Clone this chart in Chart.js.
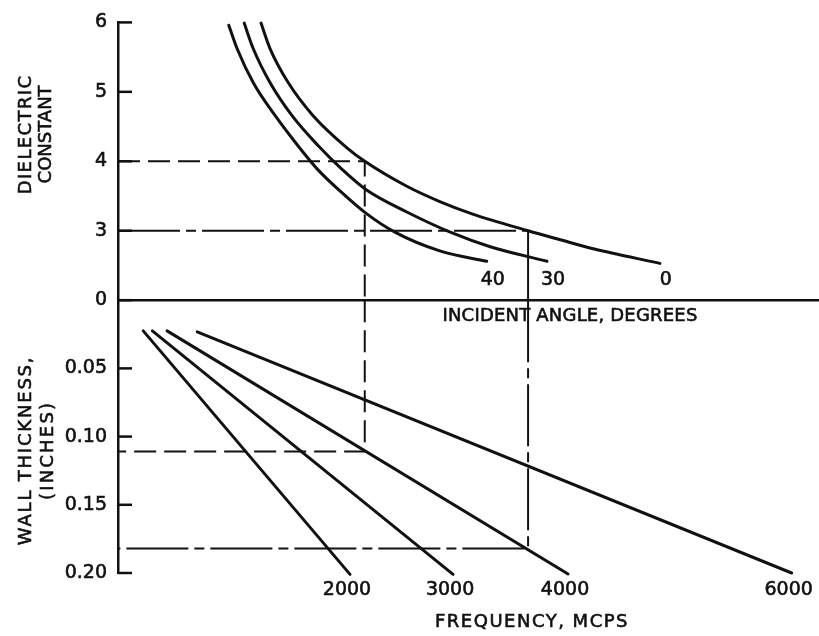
<!DOCTYPE html>
<html>
<head>
<meta charset="utf-8">
<title>Radome wall thickness nomogram</title>
<script src="https://cdn.jsdelivr.net/npm/chart.js@4.4.1/dist/chart.umd.min.js"></script>
<style>
  html, body { margin: 0; padding: 0; background: #ffffff; }
  #wrap { width: 819px; height: 636px; position: relative; }
</style>
</head>
<body>
<div id="wrap"><canvas id="chart" width="819" height="636"></canvas></div>
<script>
// ---- Upper panel: dielectric constant vs. position, one curve per incident angle ----
// (the dielectric axis is broken below 3; its lowest tick is printed as 0)
const angleNames = ['40', '30', '0'];
const angle40X   = [15.8, 17.0, 19.3, 22.4, 25.7, 28.5, 31.7, 35.4, 39.5, 45.9, 52.6];
const angle40Eps = [5.96, 5.62, 5.13, 4.66, 4.22, 3.88, 3.57, 3.25, 2.98, 2.71, 2.56];
const angle30X   = [18.0, 19.3, 21.7, 24.8, 28.5, 32.0, 35.4, 41.2, 47.4, 53.1, 61.2];
const angle30Eps = [5.99, 5.62, 5.13, 4.66, 4.23, 3.88, 3.59, 3.27, 2.98, 2.77, 2.56];
const angle0X    = [20.4, 21.7, 24.3, 27.8, 32.7, 35.2, 41.2, 45.9, 50.6, 58.5, 63.1, 67.8, 77.3];
const angle0Eps  = [5.99, 5.62, 5.13, 4.66, 4.19, 4.00, 3.64, 3.42, 3.24, 3.00, 2.87, 2.74, 2.53];

const dielectricTickValues = [2, 3, 4, 5, 6];
const dielectricTickLabels = ['0', '3', '4', '5', '6'];

// ---- Lower panel: wall thickness (inches), one straight line per frequency ----
const frequencyNames = ['2000', '3000', '4000', '6000'];
const freq2000X = [3.6, 33.1];   const freq2000T = [0.0225, 0.201];
const freq3000X = [4.9, 47.8];   const freq3000T = [0.0225, 0.201];
const freq4000X = [7.0, 64.2];   const freq4000T = [0.0225, 0.2007];
const freq6000X = [11.3, 96.1];  const freq6000T = [0.0232, 0.200];

const thicknessTickValues = [0.05, 0.10, 0.15, 0.20];

// ---- Worked examples: dielectric 4 -> 0.111 in, dielectric 3 -> 0.182 in ----
const exampleAUpperX = [0, 35.2, 35.2];   const exampleAUpperEps = [4, 4, 2];
const exampleALowerX = [35.2, 35.2, 0];   const exampleALowerT   = [0, 0.111, 0.111];
const exampleBUpperX = [0, 58.5, 58.5];   const exampleBUpperEps = [3, 3, 2];
const exampleBLowerX = [58.5, 58.5, 0];   const exampleBLowerT   = [0, 0.182, 0.182];

const INK = '#111111';
const FONT = '"DejaVu Sans", sans-serif';
const TEXT_STROKE = 0.6;

const zip = (xs, ys) => xs.map((x, i) => ({ x: x, y: ys[i] }));

const curveStyle = {
  borderColor: INK, borderWidth: 3, pointRadius: 0, fill: false,
  borderCapStyle: 'round', clip: false
};
const guideStyle = {
  borderColor: INK, borderWidth: 2, pointRadius: 0, fill: false, tension: 0
};
const DASH = [22, 8];
const DASH_DOT = [62, 6, 10, 6];

const datasets = [
  { ...curveStyle, label: angleNames[0], data: zip(angle40X, angle40Eps), yAxisID: 'y1', cubicInterpolationMode: 'monotone' },
  { ...curveStyle, label: angleNames[1], data: zip(angle30X, angle30Eps), yAxisID: 'y1', cubicInterpolationMode: 'monotone' },
  { ...curveStyle, label: angleNames[2], data: zip(angle0X, angle0Eps),   yAxisID: 'y1', cubicInterpolationMode: 'monotone' },
  { ...curveStyle, label: frequencyNames[0], data: zip(freq2000X, freq2000T), yAxisID: 'y2', tension: 0 },
  { ...curveStyle, label: frequencyNames[1], data: zip(freq3000X, freq3000T), yAxisID: 'y2', tension: 0 },
  { ...curveStyle, label: frequencyNames[2], data: zip(freq4000X, freq4000T), yAxisID: 'y2', tension: 0 },
  { ...curveStyle, label: frequencyNames[3], data: zip(freq6000X, freq6000T), yAxisID: 'y2', tension: 0 },
  { ...guideStyle, label: 'eps4-upper', data: zip(exampleAUpperX, exampleAUpperEps), yAxisID: 'y1', borderDash: DASH },
  { ...guideStyle, label: 'eps4-lower', data: zip(exampleALowerX, exampleALowerT),   yAxisID: 'y2', borderDash: DASH },
  { ...guideStyle, label: 'eps3-upper', data: zip(exampleBUpperX, exampleBUpperEps), yAxisID: 'y1',
    segment: { borderDash: ctx => (ctx.p0DataIndex === 0 ? DASH_DOT : []) } },
  { ...guideStyle, label: 'eps3-lower', data: zip(exampleBLowerX, exampleBLowerT),   yAxisID: 'y2', borderDash: DASH_DOT }
];

const AXIS_WIDTH = 118;

// Inside tick marks, curve/line end labels and the panel captions
const nomogramText = {
  id: 'nomogramText',
  afterDraw(chart) {
    const { ctx, chartArea, scales } = chart;
    const { y1, y2 } = scales;
    ctx.save();
    ctx.strokeStyle = INK;
    ctx.lineWidth = 2.5;
    [y1, y2].forEach(s => {
      s.ticks.forEach(t => {
        const py = s.getPixelForValue(t.value);
        ctx.beginPath();
        ctx.moveTo(chartArea.left, py);
        ctx.lineTo(chartArea.left + 14, py);
        ctx.stroke();
      });
    });

    const label = (text, x, y) => {
      ctx.fillText(text, x, y);
      ctx.strokeText(text, x, y);
    };

    ctx.fillStyle = INK;
    ctx.lineWidth = TEXT_STROKE;
    ctx.textBaseline = 'middle';
    ctx.textAlign = 'center';
    ctx.font = '19px ' + FONT;

    // incident-angle labels under the curve ends
    const baseY = y1.getPixelForValue(2);
    [0, 1, 2].forEach(i => {
      const pts = chart.getDatasetMeta(i).data;
      const end = pts[pts.length - 1];
      label(angleNames[i], end.x + 6, baseY - 20);
    });
    // frequency labels under the line ends
    [3, 4, 5, 6].forEach((di, i) => {
      const pts = chart.getDatasetMeta(di).data;
      const end = pts[pts.length - 1];
      label(frequencyNames[i], end.x - 3, chartArea.bottom + 17);
    });

    // horizontal captions
    ctx.font = '18px ' + FONT;
    ctx.letterSpacing = '0.2px';
    label('INCIDENT ANGLE, DEGREES', chartArea.left + 452, baseY + 16);
    ctx.letterSpacing = '1.5px';
    label('FREQUENCY, MCPS', chartArea.left + 414, chartArea.bottom + 49);

    // rotated axis titles
    const rotated = (lines, cx, cy) => {
      ctx.save();
      ctx.translate(cx, cy);
      ctx.rotate(-Math.PI / 2);
      ctx.font = '18px ' + FONT;
      lines.forEach(l => {
        ctx.letterSpacing = l.ls + 'px';
        label(l.text, 0, l.dy);
      });
      ctx.restore();
    };
    rotated([{ text: 'DIELECTRIC', dy: 0, ls: 1.4 }, { text: 'CONSTANT', dy: 20, ls: 0 }],
            26, chartArea.top + 112);
    rotated([{ text: 'WALL THICKNESS,', dy: 0, ls: 1.8 }, { text: '(INCHES)', dy: 22, ls: 2.2 }],
            26, chartArea.top + 428);
    ctx.restore();
  }
};

const tickFont = { family: FONT, size: 19 };

new Chart(document.getElementById('chart'), {
  type: 'line',
  data: { datasets: datasets },
  options: {
    responsive: false,
    animation: false,
    devicePixelRatio: 1,
    layout: { padding: { top: 16, right: 0, bottom: 63, left: 0 } },
    plugins: { legend: { display: false }, tooltip: { enabled: false } },
    scales: {
      x: { type: 'linear', min: 0, max: 100, display: false },
      y1: {
        type: 'linear', position: 'left', stack: 'panels', stackWeight: 281, weight: 2,
        min: 2, max: 6,
        afterBuildTicks: s => { s.ticks = dielectricTickValues.map(v => ({ value: v })); },
        afterFit: s => { s.width = AXIS_WIDTH; },
        ticks: {
          padding: 11, color: INK, font: tickFont,
          textStrokeColor: INK, textStrokeWidth: TEXT_STROKE,
          callback: v => dielectricTickLabels[dielectricTickValues.indexOf(v)]
        },
        grid: {
          drawTicks: false, drawOnChartArea: true, lineWidth: 2.5,
          color: c => (c.tick && c.tick.value === 2 ? INK : 'rgba(0,0,0,0)')
        },
        border: { display: true, color: INK, width: 2.5 }
      },
      y2: {
        type: 'linear', position: 'left', stack: 'panels', stackWeight: 276, weight: 1,
        min: 0, max: 0.2, reverse: true,
        afterBuildTicks: s => { s.ticks = thicknessTickValues.map(v => ({ value: v })); },
        afterFit: s => { s.width = AXIS_WIDTH; },
        ticks: {
          padding: 11, color: INK, font: tickFont,
          textStrokeColor: INK, textStrokeWidth: TEXT_STROKE,
          callback: v => v.toFixed(2)
        },
        grid: { display: false, drawTicks: false },
        border: { display: true, color: INK, width: 2.5 }
      }
    }
  },
  plugins: [nomogramText]
});
</script>
</body>
</html>
